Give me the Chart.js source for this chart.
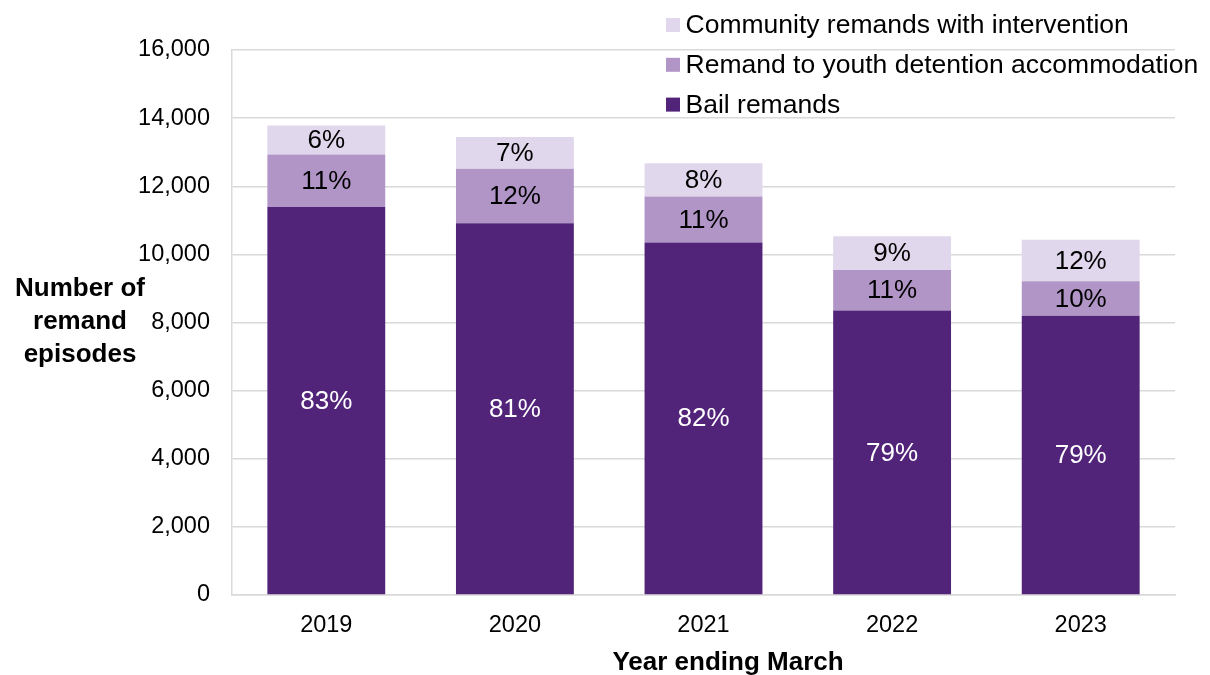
<!DOCTYPE html>
<html>
<head>
<meta charset="utf-8">
<script src="https://cdn.jsdelivr.net/npm/chart.js@4/dist/chart.umd.min.js"></script>
<style>
    body { margin: 0; background: #ffffff; }
    #wrap { width: 1210px; height: 675px; position: relative; }
</style>
</head>
<body>
<div id="wrap"><canvas id="remandChart"></canvas></div>
<script>
// Remand episodes by type, year ending March

const years = ['2019', '2020', '2021', '2022', '2023'];
const bailRemands = [11394, 10912, 10352, 8350, 8196];
const youthDetention = [1536, 1599, 1348, 1190, 1013];
const communityIntervention = [850, 932, 972, 990, 1221];

const seriesNames = ['Bail remands', 'Remand to youth detention accommodation', 'Community remands with intervention'];
const seriesColors = ['#51247A', '#B195C7', '#E0D7EC'];
const labelColors = ['#ffffff', '#000000', '#000000'];

const yTitleLines = ['Number of', 'remand', 'episodes'];
const xTitle = 'Year ending March';

const FONT = "'Liberation Sans', Arial, sans-serif";

const totals = years.map((_, i) => bailRemands[i] + youthDetention[i] + communityIntervention[i]);

// Share labels inside each segment, plus the axis titles and the legend
const annotations = {
    id: 'annotations',
    afterDatasetsDraw(chart) {
        const ctx = chart.ctx;
        ctx.save();
        ctx.textAlign = 'center';
        ctx.textBaseline = 'middle';
        ctx.font = `26px ${FONT}`;
        chart.data.datasets.forEach((ds, di) => {
            const meta = chart.getDatasetMeta(di);
            meta.data.forEach((bar, i) => {
                const pct = Math.round(ds.data[i] / totals[i] * 100);
                const midY = (bar.y + bar.base) / 2;
                ctx.fillStyle = labelColors[di];
                ctx.fillText(pct + '%', bar.x, midY + 1);
            });
        });
        ctx.restore();
    },
    afterDraw(chart) {
        const ctx = chart.ctx;
        ctx.save();

        // y axis title, horizontal and stacked
        ctx.font = `bold 26px ${FONT}`;
        ctx.fillStyle = '#000000';
        ctx.textAlign = 'center';
        ctx.textBaseline = 'middle';
        yTitleLines.forEach((line, i) => {
            ctx.fillText(line, 80, 289 + i * 33);
        });

        // x axis title
        ctx.fillText(xTitle, 728, 663);

        // legend, top item first
        ctx.font = `26.5px ${FONT}`;
        ctx.textAlign = 'left';
        for (let k = 0; k < 3; k++) {
            const di = 2 - k;
            const cy = 25 + k * 39.8;
            ctx.fillStyle = seriesColors[di];
            ctx.fillRect(666, cy - 7, 14, 14);
            ctx.fillStyle = '#000000';
            ctx.fillText(seriesNames[di], 685.5, cy + 1);
        }
        ctx.restore();
    }
};

const ctx = document.getElementById('remandChart').getContext('2d');

new Chart(ctx, {
    type: 'bar',
    data: {
        labels: years,
        datasets: [
            { label: seriesNames[0], data: bailRemands, backgroundColor: seriesColors[0] },
            { label: seriesNames[1], data: youthDetention, backgroundColor: seriesColors[1] },
            { label: seriesNames[2], data: communityIntervention, backgroundColor: seriesColors[2] }
        ]
    },
    options: {
        responsive: true,
        maintainAspectRatio: false,
        animation: false,
        layout: { padding: { top: 50, right: 35, left: 0, bottom: 0 } },
        datasets: {
            bar: { categoryPercentage: 1.0, barPercentage: 0.625, borderWidth: 0 }
        },
        scales: {
            x: {
                stacked: true,
                grid: { display: false, drawTicks: false },
                border: { display: true, color: '#D9D9D9', width: 1.5 },
                ticks: { color: '#000000', padding: 16, font: { family: FONT, size: 23.5 } },
                afterFit: s => { s.height = 80; }
            },
            y: {
                stacked: true,
                min: 0,
                max: 16000,
                grid: { color: '#D9D9D9', lineWidth: 1.5, drawTicks: false },
                border: { display: true, color: '#D9D9D9', width: 1.5 },
                ticks: {
                    stepSize: 2000,
                    color: '#000000',
                    padding: 22,
                    font: { family: FONT, size: 23.5 },
                    callback: v => v.toLocaleString('en-GB')
                },
                afterFit: s => { s.width = 232; }
            }
        },
        plugins: {
            legend: { display: false },
            tooltip: { enabled: false }
        }
    },
    plugins: [annotations]
});
</script>
</body>
</html>
